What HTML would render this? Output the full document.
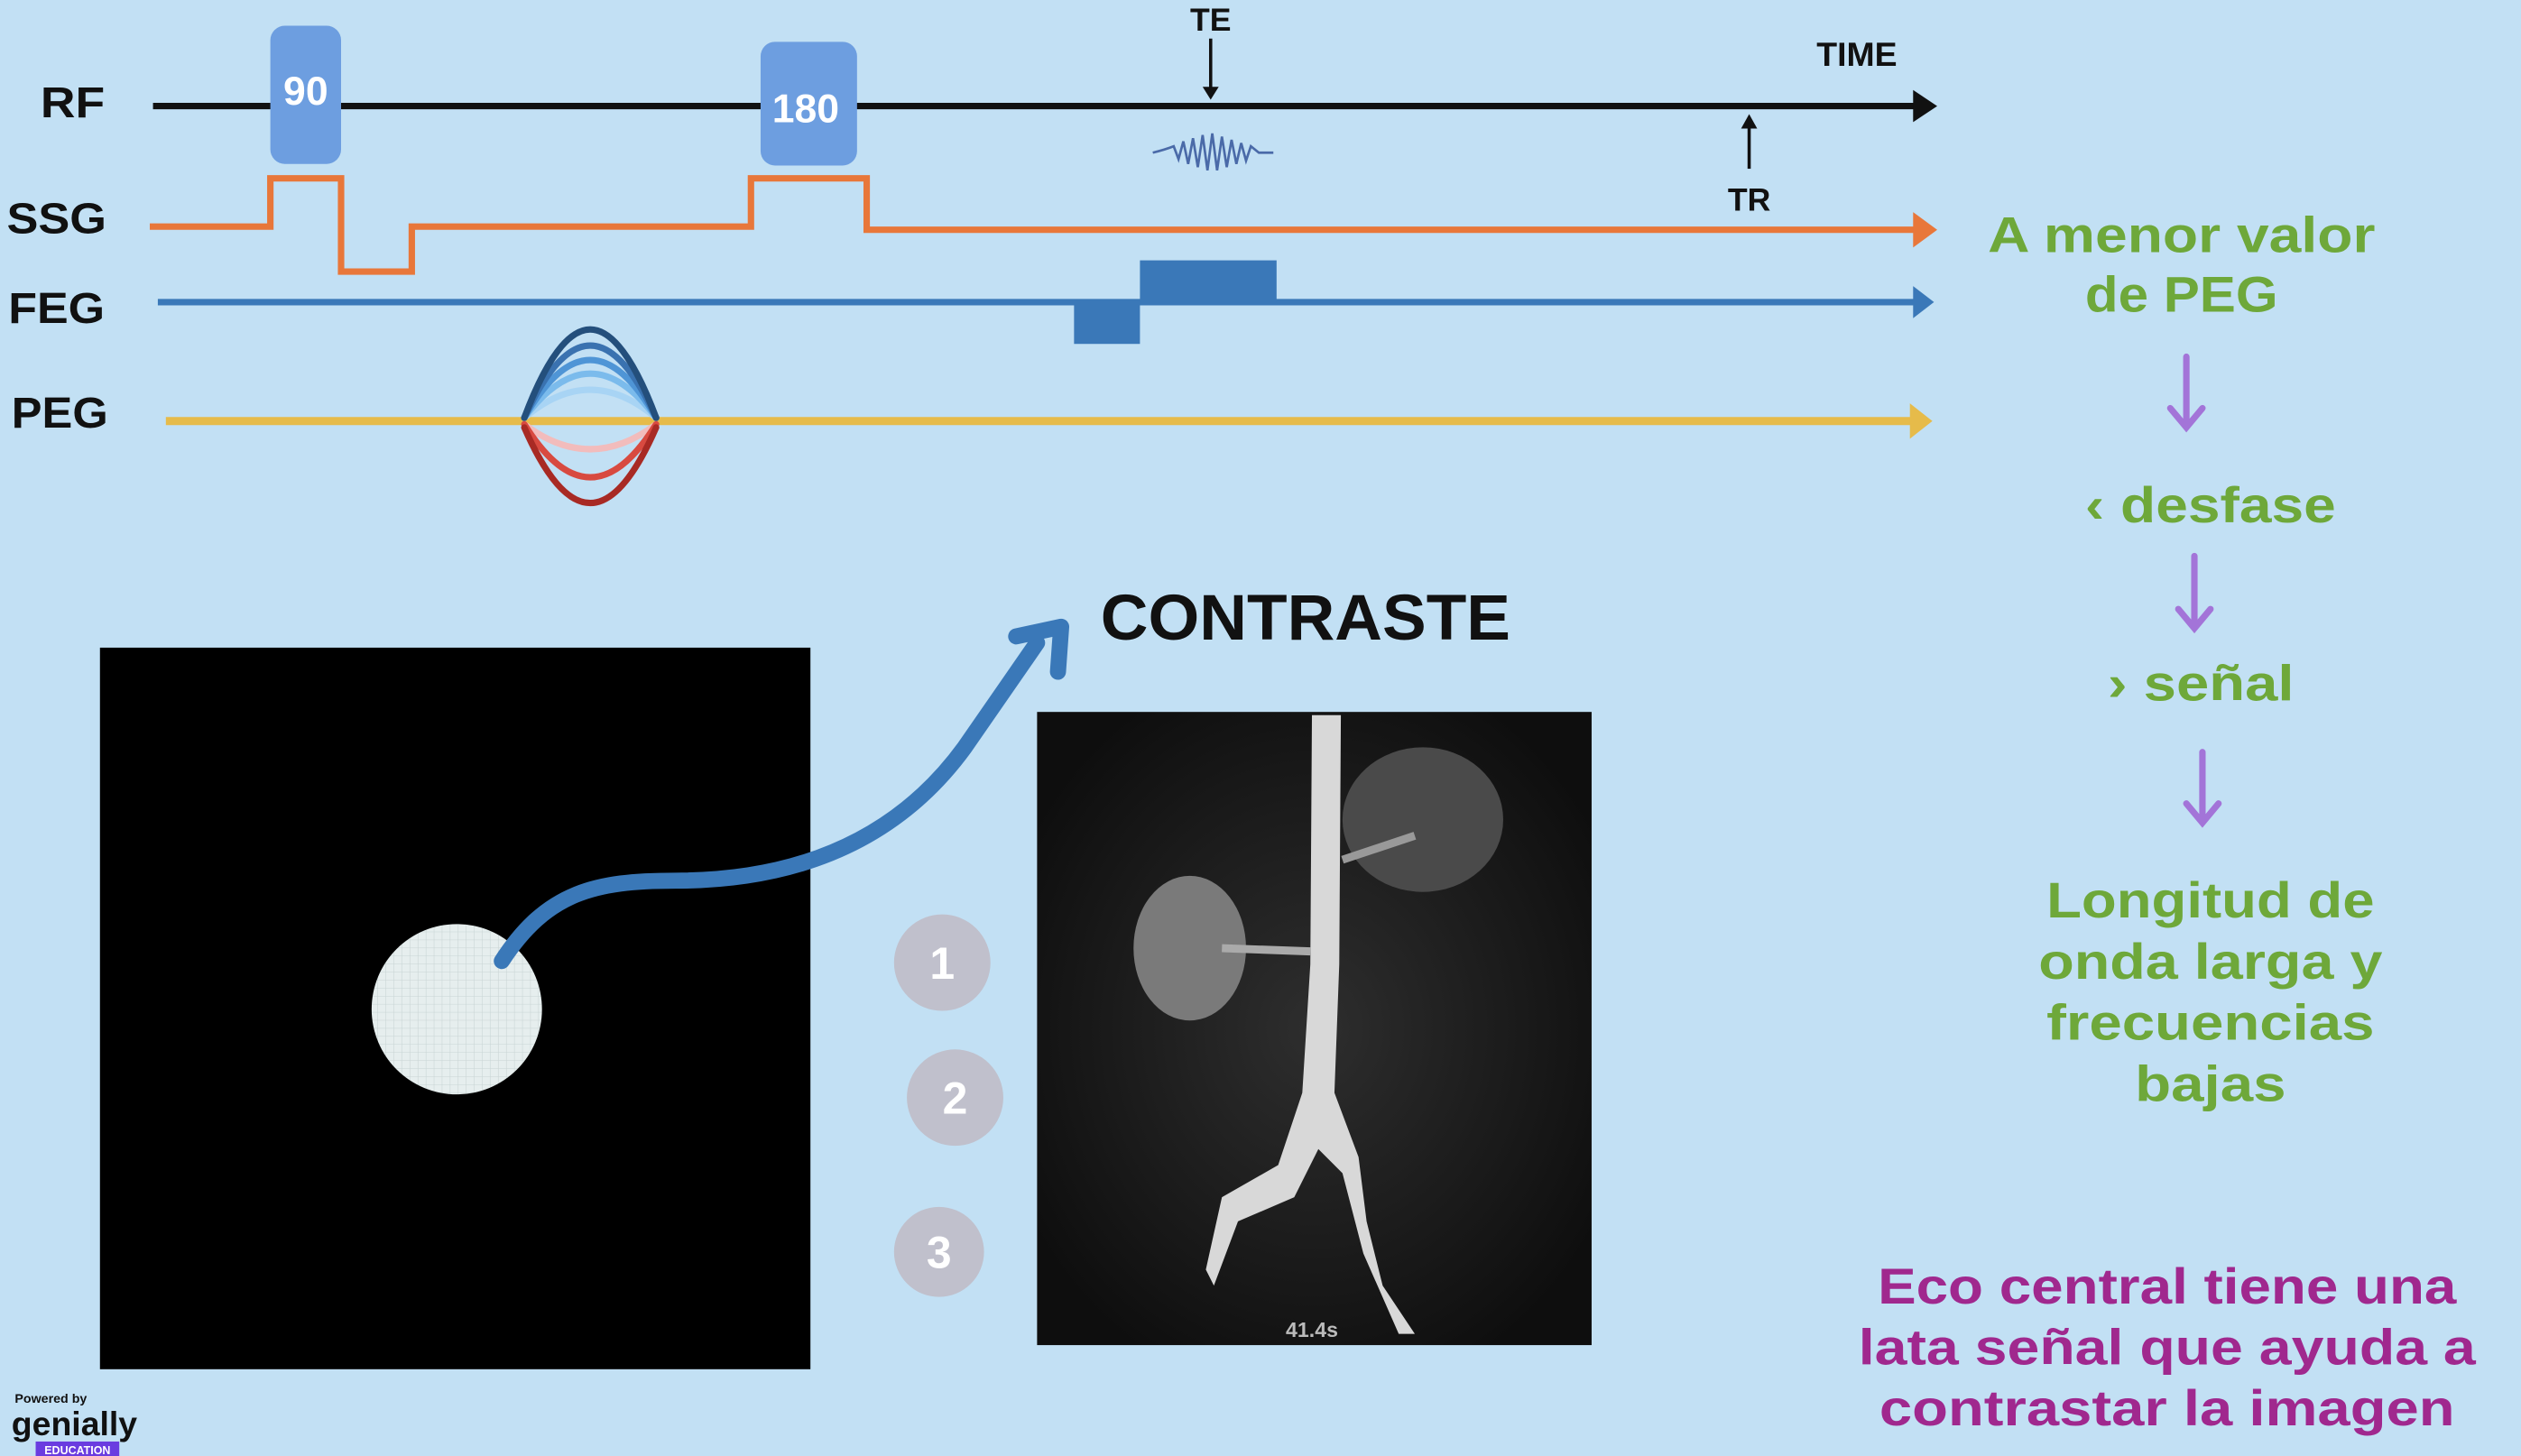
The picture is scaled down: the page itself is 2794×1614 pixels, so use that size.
<!DOCTYPE html>
<html><head><meta charset="utf-8"><style>
html,body{margin:0;padding:0;background:#c2e0f4;overflow:hidden}
svg{display:block}
text{font-family:"Liberation Sans",sans-serif;font-weight:bold}
</style></head><body>
<svg width="2794" height="1614" viewBox="0 0 1568 906" xmlns="http://www.w3.org/2000/svg">
<rect width="1568" height="906" fill="#c2e0f4"/>
<defs>
<pattern id="g" width="5" height="5" patternUnits="userSpaceOnUse"><rect width="5" height="5" fill="#e6eeee"/><path d="M5 0V5H0" fill="none" stroke="#c8d4d4" stroke-width="0.6"/></pattern>
<radialGradient id="mri" cx="0.5" cy="0.5" r="0.6"><stop offset="0" stop-color="#2e2e2e"/><stop offset="1" stop-color="#0e0e0e"/></radialGradient>
</defs>
<g font-size="27" fill="#111">
<text x="25" y="73" textLength="40" lengthAdjust="spacingAndGlyphs">RF</text><text x="4" y="145" textLength="62" lengthAdjust="spacingAndGlyphs">SSG</text><text x="5" y="201" textLength="60" lengthAdjust="spacingAndGlyphs">FEG</text><text x="7" y="266" textLength="60" lengthAdjust="spacingAndGlyphs">PEG</text>
</g>
<line x1="95" y1="66" x2="1195" y2="66" stroke="#111" stroke-width="4"/>
<path d="M1190 56 L1205 66 L1190 76 Z" fill="#111"/>
<rect x="168" y="16" width="44" height="86" rx="9" fill="#6d9ee0"/>
<text x="190" y="65" font-size="25" fill="#fff" text-anchor="middle">90</text>
<rect x="473" y="26" width="60" height="77" rx="9" fill="#6d9ee0"/>
<text x="501" y="76" font-size="25" fill="#fff" text-anchor="middle">180</text>
<text x="753" y="19" font-size="20" text-anchor="middle" fill="#111">TE</text>
<line x1="753" y1="24" x2="753" y2="58" stroke="#111" stroke-width="2"/>
<path d="M748 54 L753 62 L758 54Z" fill="#111"/>
<path d="M717 95 Q725 93 730 91 L733 99 L736 88 L739 102 L742 86 L745 104 L748 84 L751 106 L754 83 L757 106 L760 85 L763 104 L766 87 L769 102 L772 89 L775 100 L778 91 L783 95 L792 95" fill="none" stroke="#4a6aa8" stroke-width="1.5"/>
<text x="1155" y="41" font-size="21" text-anchor="middle" fill="#111">TIME</text>
<line x1="1088" y1="105" x2="1088" y2="76" stroke="#111" stroke-width="2"/>
<path d="M1083 80 L1088 71 L1093 80Z" fill="#111"/>
<text x="1088" y="131" font-size="20" text-anchor="middle" fill="#111">TR</text>
<path d="M93 141 H168 V111 H212 V169 H256 V141 H467 V111 H539 V143 H1195" fill="none" stroke="#e8773a" stroke-width="4"/>
<path d="M1190 132 L1205 143 L1190 154Z" fill="#e8773a"/>
<line x1="98" y1="188" x2="1195" y2="188" stroke="#3a78b8" stroke-width="4"/>
<path d="M1190 178 L1203 188 L1190 198Z" fill="#3a78b8"/>
<rect x="668" y="188" width="41" height="26" fill="#3a78b8"/>
<rect x="709" y="162" width="85" height="26" fill="#3a78b8"/>
<line x1="103" y1="262" x2="1195" y2="262" stroke="#e6bb4a" stroke-width="5"/>
<path d="M1188 251 L1202 262 L1188 273Z" fill="#e6bb4a"/>
<g fill="none" stroke-width="4" stroke-linecap="round">
<path d="M326 260 Q367 225 408 260" stroke="#a8d4f4"/>
<path d="M326 260 Q367 205 408 260" stroke="#7bbbec"/>
<path d="M326 260 Q367 188 408 260" stroke="#4f95d6"/>
<path d="M326 260 Q367 170 408 260" stroke="#3a72b0"/>
<path d="M326 260 Q367 150 408 260" stroke="#244f7c"/>
<path d="M326 264 Q367 295 408 264" stroke="#f2bcbc"/>
<path d="M326 264 Q367 330 408 264" stroke="#d84a40"/>
<path d="M326 266 Q367 360 408 266" stroke="#a82a24"/>
</g>
<g font-size="31" fill="#6ea83a" text-anchor="middle" lengthAdjust="spacingAndGlyphs">
<text x="1357" y="157" textLength="241" lengthAdjust="spacingAndGlyphs">A menor valor</text><text x="1357" y="194" textLength="120" lengthAdjust="spacingAndGlyphs">de PEG</text>
<text x="1375" y="325" textLength="156" lengthAdjust="spacingAndGlyphs">‹ desfase</text><text x="1369" y="436" textLength="116" lengthAdjust="spacingAndGlyphs">› señal</text>
<text x="1375" y="571" textLength="204" lengthAdjust="spacingAndGlyphs">Longitud de</text><text x="1375" y="609" textLength="214" lengthAdjust="spacingAndGlyphs">onda larga y</text><text x="1375" y="647" textLength="204" lengthAdjust="spacingAndGlyphs">frecuencias</text><text x="1375" y="685" textLength="94" lengthAdjust="spacingAndGlyphs">bajas</text>
</g>
<g stroke="#a374d8" stroke-width="4" fill="none" stroke-linecap="round">
<path d="M1360 222 V265 M1350 254 L1360 266 L1370 254"/>
<path d="M1365 346 V390 M1355 379 L1365 391 L1375 379"/>
<path d="M1370 468 V511 M1360 500 L1370 512 L1380 500"/>
</g>
<g font-size="31" fill="#a0288e" text-anchor="middle">
<text x="1348" y="811" textLength="360" lengthAdjust="spacingAndGlyphs">Eco central tiene una</text><text x="1348" y="849" textLength="384" lengthAdjust="spacingAndGlyphs">lata señal que ayuda a</text><text x="1348" y="887" textLength="358" lengthAdjust="spacingAndGlyphs">contrastar la imagen</text>
</g>
<rect x="62" y="403" width="442" height="449" fill="#000"/>
<circle cx="284" cy="628" r="53" fill="url(#g)"/>
<path d="M312 598 C340 555 370 548 420 548 C500 548 560 520 600 465 L645 400" fill="none" stroke="#3a78b8" stroke-width="10" stroke-linecap="round"/>
<path d="M632 396 L660 390 L658 418" fill="none" stroke="#3a78b8" stroke-width="10" stroke-linecap="round" stroke-linejoin="round"/>
<text x="812" y="398" font-size="40" text-anchor="middle" fill="#111" textLength="255" lengthAdjust="spacingAndGlyphs">CONTRASTE</text>
<rect x="645" y="443" width="345" height="394" fill="url(#mri)"/>
<ellipse cx="740" cy="590" rx="35" ry="45" fill="#7a7a7a"/>
<ellipse cx="885" cy="510" rx="50" ry="45" fill="#4a4a4a"/>
<path d="M816 445 L834 445 L833 600 L830 680 L845 720 L850 760 L860 800 L880 830 L870 830 L848 780 L835 730 L820 715 L805 745 L770 760 L755 800 L750 790 L760 745 L795 725 L810 680 L815 600Z" fill="#d8d8d8"/>
<line x1="760" y1="590" x2="815" y2="592" stroke="#aaa" stroke-width="5"/>
<line x1="835" y1="535" x2="880" y2="520" stroke="#999" stroke-width="5"/>
<text x="816" y="832" font-size="13" fill="#bbb" text-anchor="middle" font-weight="normal">41.4s</text>
<g fill="#c0c0cc"><circle cx="586" cy="599" r="30"/><circle cx="594" cy="683" r="30"/><circle cx="584" cy="779" r="28"/></g>
<g font-size="28" fill="#fff" text-anchor="middle"><text x="586" y="609">1</text><text x="594" y="693">2</text><text x="584" y="789">3</text></g>
<text x="9" y="873" font-size="8" fill="#111">Powered by</text>
<text x="7" y="893" font-size="21" fill="#111" font-weight="normal">genially</text>
<rect x="22" y="897" width="52" height="9" fill="#6a3ce0"/>
<text x="48" y="905" font-size="7" fill="#fff" text-anchor="middle">EDUCATION</text>
</svg>
</body></html>
